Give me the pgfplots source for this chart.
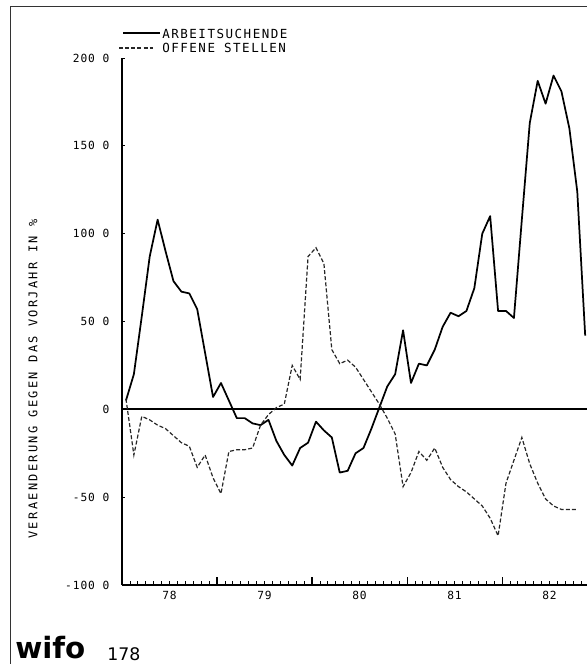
\documentclass[border=0pt]{standalone}
\usepackage{fontspec}
\usepackage{pgfplots}
\pgfplotsset{compat=1.18}
\newfontfamily\tickfont[LetterSpace=8]{DejaVu Sans Mono}
\newfontfamily\legfont[LetterSpace=12]{DejaVu Sans Mono}
\newfontfamily\ylfont[LetterSpace=19]{DejaVu Sans Mono}
\newfontfamily\numfont{DejaVu Sans}
\newfontfamily\logofont{DejaVu Sans}

% month index k = 0 is Jan 1978 (mid-month), 12 months per year
\pgfplotstableread{
k v
0 5
1 20
2 53
3 87
4 108
5 90
6 73
7 67
8 66
9 57
10 32
11 7
12 15
13 5
14 -5
15 -5
16 -8
17 -9
18 -6
19 -18
20 -26
21 -32
22 -22
23 -19
24 -7
25 -12
26 -16
27 -36
28 -35
29 -25
30 -22
31 -11
32 1
33 13
34 20
35 45
36 15
37 26
38 25
39 34
40 47
41 55
42 53
43 56
44 69
45 100
46 110
47 56
48 56
49 52
50 108
51 163
52 187
53 174
54 190
55 181
56 160
57 124
58 42
}\arbeit

\pgfplotstableread{
k v
0 6
1 -26
2 -4
3 -6
4 -9
5 -11
6 -15
7 -19
8 -21
9 -33
10 -26
11 -39
12 -48
13 -24
14 -23
15 -23
16 -22
17 -9
18 -3
19 1
20 3
21 25
22 17
23 87
24 92
25 83
26 34
27 26
28 28
29 24
30 17
31 10
32 3
33 -5
34 -14
35 -44
36 -36
37 -24
38 -29
39 -22
40 -33
41 -40
42 -44
43 -47
44 -51
45 -55
46 -62
47 -72
48 -42
49 -29
50 -16
51 -31
52 -42
53 -51
54 -55
55 -57
56 -57
57 -57
}\stellen

\begin{document}
\begin{tikzpicture}
\path[use as bounding box] (0,0) rectangle (440.25pt,-498pt);
\begin{axis}[
  at={(91.5pt,-438.75pt)}, anchor=south west,
  scale only axis, width=348.75pt, height=395.25pt,
  xmin=-0.5, xmax=58.23, ymin=-100, ymax=200,
  axis x line=bottom, axis y line=left,
  axis line style={-, line width=1pt},
  tick align=inside,
  xtick={5.5,17.5,29.5,41.5,53.5},
  xticklabels={78,79,80,81,82},
  major x tick style={draw=none},
  minor xtick={0.5,1.5,...,57.5},
  minor tick length=3pt,
  extra x ticks={11.5,23.5,35.5,47.5},
  extra x tick labels={},
  extra x tick style={major tick length=6pt, major x tick style={draw=black, line width=0.8pt}},
  ytick={-100,-50,0,50,100,150,200},
  yticklabels={-100 0,-50 0,0,50 0,100 0,150 0,200 0},
  major tick length=2.5pt,
  tick style={black, line width=0.6pt},
  tick label style={font=\tickfont\fontsize{8.4}{9}\selectfont},
  yticklabel style={xshift=-6pt},
  xticklabel style={yshift=-1pt},
  clip=false,
]
\addplot[black, line width=1.4pt] coordinates {(-0.5,0) (58.23,0)};
\addplot[black, line width=1.3pt, line join=round] table[x=k, y=v] {\arbeit};
\addplot[black!85, line width=0.9pt, dash pattern=on 3pt off 1.6pt] table[x=k, y=v] {\stellen};
\end{axis}
\begin{scope}[x=0.75pt, y=-0.75pt]
\draw[black!80, line width=0.7pt] (10,664) -- (10,6) -- (587,6);
\draw[black, line width=0.9pt] (123,33) -- (160,33);
\draw[black!85, line width=0.9pt, dash pattern=on 3pt off 1.6pt] (119,48) -- (153,48);
\node[anchor=west, inner sep=0, font=\legfont\fontsize{9.4}{10}\selectfont] at (162,33.5) {ARBEITSUCHENDE};
\node[anchor=west, inner sep=0, font=\legfont\fontsize{9.4}{10}\selectfont] at (162,48) {OFFENE STELLEN};
\node[rotate=90, inner sep=0, font=\ylfont\fontsize{9}{10}\selectfont] at (33,379) {VERAENDERUNG GEGEN DAS VORJAHR IN \%};
\node[anchor=base west, inner sep=0, font=\numfont\fontsize{13}{14}\selectfont] at (107,660) {178};
\node[anchor=base west, inner sep=0, font=\logofont\bfseries\fontsize{22}{24}\selectfont] at (15,658) {wifo};
\end{scope}
\end{tikzpicture}
\end{document}
